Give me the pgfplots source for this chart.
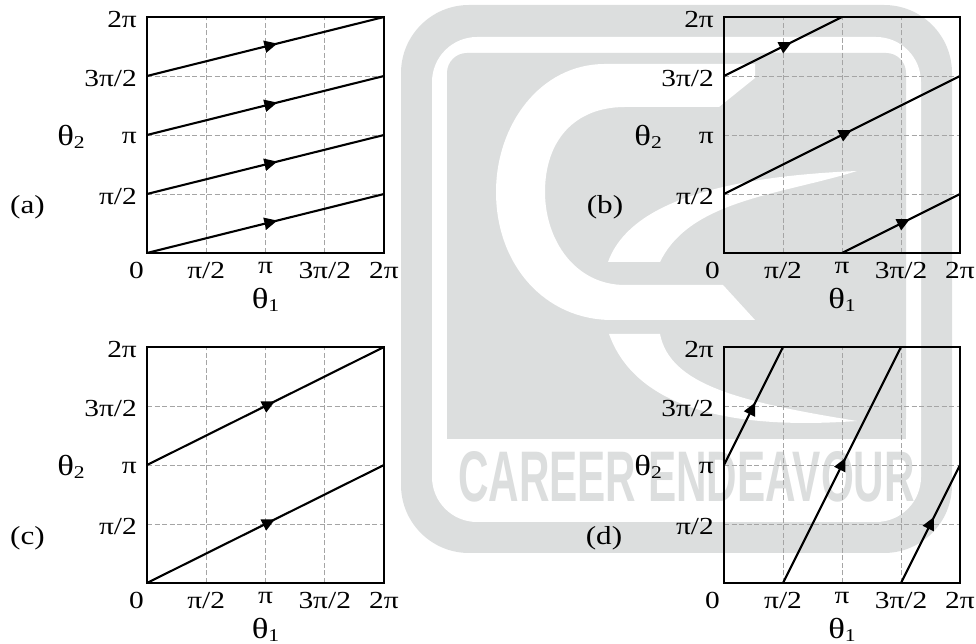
\documentclass[border=0pt]{standalone}
\usepackage{fontspec}
\setmainfont{Liberation Serif}[FakeStretch=1.2]
\newfontfamily\wmfont{Liberation Sans}
\usepackage{graphicx}
\usepackage{pgfplots}
\pgfplotsset{compat=1.18}
\usetikzlibrary{arrows.meta,decorations.markings}
\definecolor{wm}{RGB}{220,222,222}
\definecolor{gridc}{RGB}{165,165,165}
\newcommand{\tlf}{\fontsize{24.5}{27}\selectfont}
\newcommand{\lbf}{\fontsize{29}{31}\selectfont}
\newcommand{\plf}{\fontsize{26}{28}\selectfont}
\newcommand{\sub}[1]{\raisebox{-3pt}{\fontsize{18}{18}\selectfont #1}}
\pgfplotsset{
  panel/.style={
    scale only axis, width=237pt, height=236pt,
    xmin=0, xmax=6.283185, ymin=0, ymax=6.283185,
    xtick={1.570796,3.141593,4.712389,6.283185},
    xticklabels={π/2,π,3π/2,2π},
    ytick={1.570796,3.141593,4.712389,6.283185},
    yticklabels={π/2,π,3π/2,2π},
    grid=major,
    major grid style={gridc, line width=0.9pt, dash pattern=on 5pt off 2.5pt},
    axis line style={line width=2.4pt},
    major tick length=0pt,
    tick style={draw=none},
    xticklabel style={font=\tlf, anchor=north, inner sep=0pt, yshift=-9pt},
    yticklabel style={font=\tlf, anchor=east, inner sep=0pt, xshift=-10pt, yshift=-3pt},
    xlabel={θ\sub{1}},
    ylabel={θ\sub{2}},
    every axis x label/.style={at={(axis description cs:0.5,0)}, anchor=north, inner sep=0pt, yshift=-35pt, font=\lbf},
    every axis y label/.style={at={(axis description cs:0,0.5)}, anchor=east, inner sep=0pt, xshift=-62pt, yshift=-2pt, font=\lbf},
  },
  traj/.style={black, line width=2.1pt, postaction={decorate, decoration={markings, mark=at position #1 with {\arrow{Triangle[length=13pt,width=12pt]}}}}},
}
\begin{document}
\begin{tikzpicture}[x=1pt,y=1pt]
\path[use as bounding box] (0,0) rectangle (976,644);
% watermark
\begin{scope}[shift={(0pt,644pt)}, yscale=-1]
 \fill[wm, rounded corners=68pt] (401,5) rectangle (952,553);
 \fill[white, rounded corners=45pt] (432,37) rectangle (921,522);
 \fill[wm, rounded corners=20pt] (447,53) rectangle (906,439);
 \fill[wm] (447,400) rectangle (906,439);
 \fill[white] (755,64) -- (605,64) .. controls (540,64) and (496,125) .. (496,192)
   .. controls (496,265) and (545,320) .. (612,320) -- (755,320) -- (723,285) -- (625,285)
   .. controls (575,285) and (545,240) .. (545,192)
   .. controls (545,140) and (575,107) .. (625,107) -- (719,107) -- (755,78) -- cycle;
 \fill[white] (608,262) .. controls (625,215) and (690,178) .. (857,171)
   .. controls (780,195) and (690,200) .. (660,262) -- cycle;
 \fill[white] (609,334) -- (660,334) .. controls (670,385) and (740,402) .. (857,421)
   .. controls (760,428) and (640,420) .. (609,334) -- cycle;
\end{scope}
\node[text=wm, inner sep=0pt] at (686.5,167) {\resizebox{457pt}{50pt}{\wmfont\bfseries CAREER ENDEAVOUR}};
% (a)
\begin{axis}[panel, at={(147pt,391pt)}, anchor=south west]
\addplot[traj=0.55] coordinates {(0,0) (6.283185,1.570796)};
\addplot[traj=0.55] coordinates {(0,1.570796) (6.283185,3.141593)};
\addplot[traj=0.55] coordinates {(0,3.141593) (6.283185,4.712389)};
\addplot[traj=0.55] coordinates {(0,4.712389) (6.283185,6.283185)};
\end{axis}
% (b)
\begin{axis}[panel, at={(724pt,391pt)}, anchor=south west, width=236pt]
\addplot[traj=0.576] coordinates {(0,4.712389) (3.141593,6.283185)};
\addplot[traj=0.542] coordinates {(0,1.570796) (6.283185,4.712389)};
\addplot[traj=0.576] coordinates {(3.141593,0) (6.283185,1.570796)};
\end{axis}
% (c)
\begin{axis}[panel, at={(147pt,61pt)}, anchor=south west]
\addplot[traj=0.54] coordinates {(0,3.141593) (6.283185,6.283185)};
\addplot[traj=0.54] coordinates {(0,0) (6.283185,3.141593)};
\end{axis}
% (d)
\begin{axis}[panel, at={(724pt,61pt)}, anchor=south west, width=236pt]
\addplot[traj=0.53] coordinates {(0,3.141593) (1.570796,6.283185)};
\addplot[traj=0.53] coordinates {(1.570796,0) (4.712389,6.283185)};
\addplot[traj=0.56] coordinates {(4.712389,0) (6.283185,3.141593)};
\end{axis}
% corner zero labels
\node[font=\tlf, anchor=north east, inner sep=0pt] at (144,382) {0};
\node[font=\tlf, anchor=north east, inner sep=0pt] at (720,382) {0};
\node[font=\tlf, anchor=north east, inner sep=0pt] at (144,52) {0};
\node[font=\tlf, anchor=north east, inner sep=0pt] at (720,52) {0};
% panel letters
\node[font=\plf, inner sep=0pt] at (27.5,437) {(a)};
\node[font=\plf, inner sep=0pt] at (605,437) {(b)};
\node[font=\plf, inner sep=0pt] at (27.5,106) {(c)};
\node[font=\plf, inner sep=0pt] at (604,106) {(d)};
\end{tikzpicture}
\end{document}
